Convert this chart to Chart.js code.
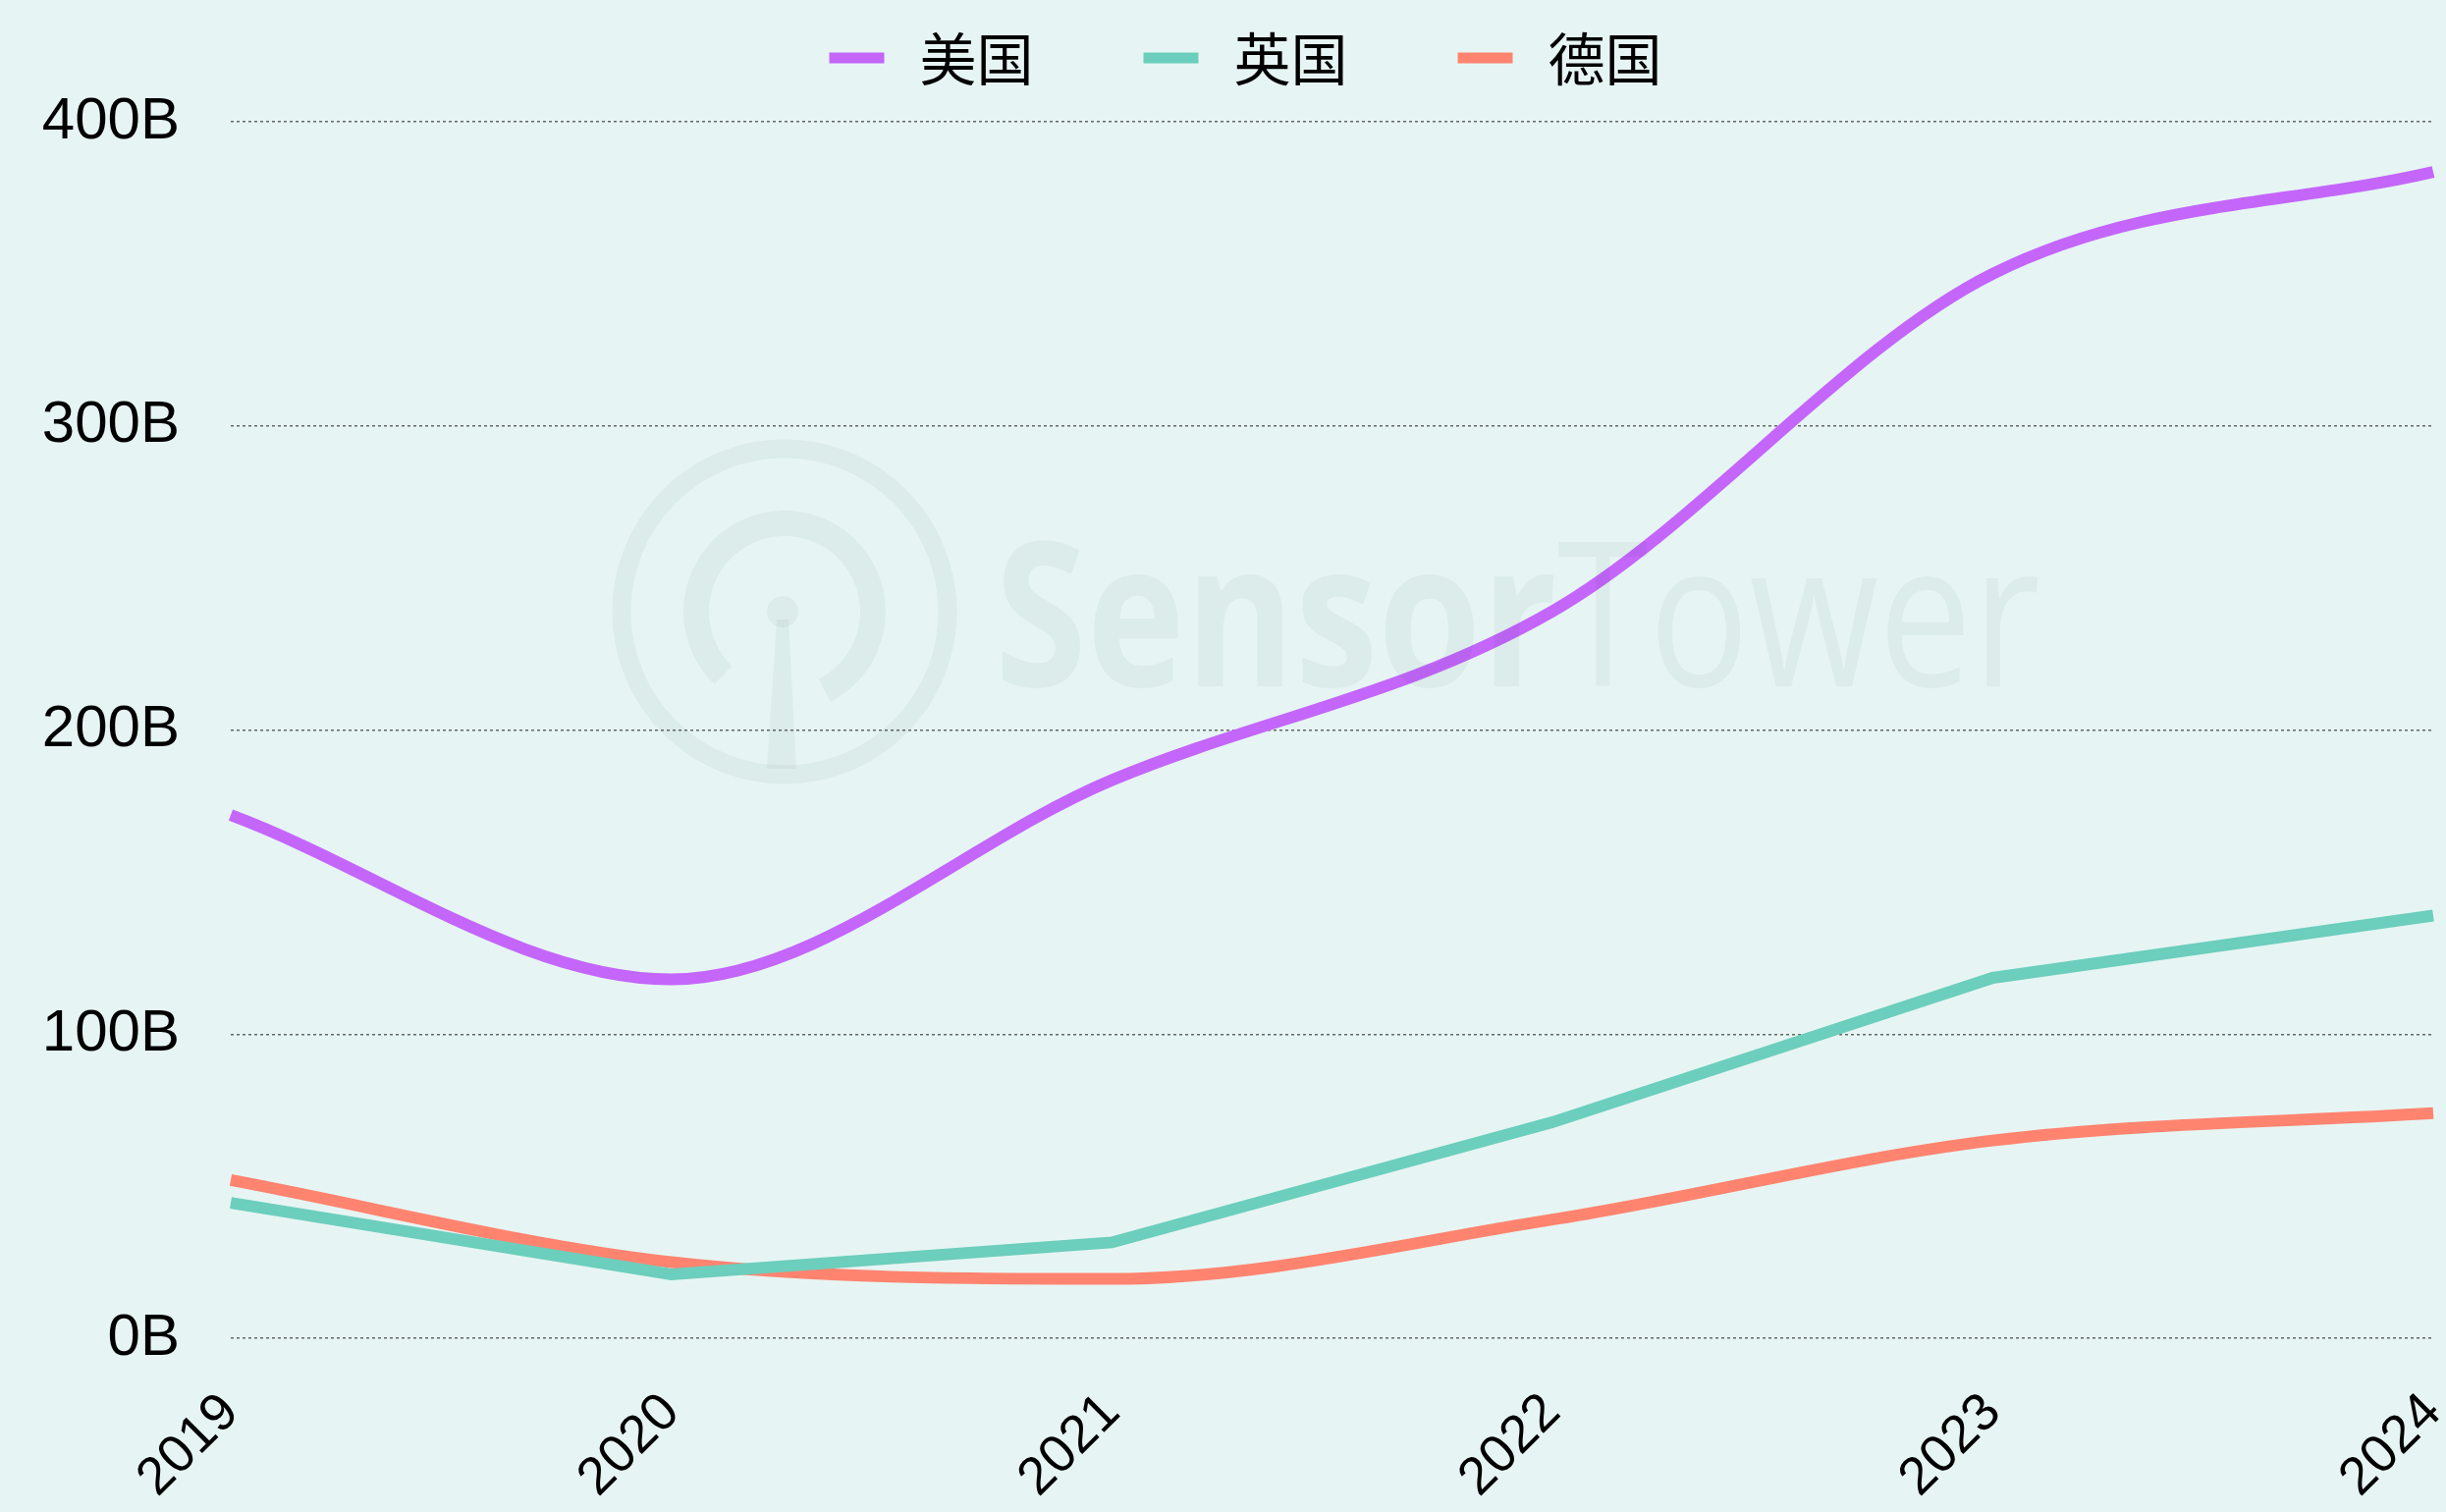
<!DOCTYPE html>
<html>
<head>
<meta charset="utf-8">
<script src="https://cdn.jsdelivr.net/npm/chart.js@4/dist/chart.umd.min.js"></script>
<style>
  html, body { margin: 0; padding: 0; background: #e6f5f3; }
  #wrap { width: 2491px; height: 1540px; position: relative; }
</style>
</head>
<body>
<div id="wrap"><canvas id="chart"></canvas></div>
<script>
// data (billions)
const years = ["2019", "2020", "2021", "2022", "2023", "2024"];
const usValues = [172, 118, 183.5, 239, 350, 383.5];
const ukValues = [44.5, 21, 31.5, 71, 118.5, 139];
const deValues = [52, 25, 19.5, 39, 65, 74];
const seriesNames = ["美国", "英国", "德国"];
const seriesColors = ["#c466fa", "#6ccebc", "#ff8470"];
const yTickValues = [0, 100, 200, 300, 400];

const yFont = { family: "'Liberation Sans', Arial, sans-serif", size: 60 };
const xFont = { family: "'Liberation Sans', Arial, sans-serif", size: 54 };
const cjkFont = "'Noto Sans CJK SC', sans-serif";

// legend drawn by hand so the item spacing matches
const topLegend = {
  id: "topLegend",
  afterDraw(chart) {
    const ctx = chart.ctx;
    ctx.save();
    ctx.font = "58px " + cjkFont;
    ctx.textBaseline = "middle";
    const boxW = 56, boxH = 11, gap = 36, spacing = 112;
    const widths = chart.data.datasets.map(ds => boxW + gap + ctx.measureText(ds.label).width);
    const total = widths.reduce((a, b) => a + b, 0) + spacing * (widths.length - 1);
    let x = chart.width / 2 + 23 - total / 2;
    const y = 59;
    chart.data.datasets.forEach((ds, i) => {
      ctx.fillStyle = ds.borderColor;
      ctx.fillRect(x, y - boxH / 2, boxW, boxH);
      ctx.fillStyle = "#000";
      ctx.fillText(ds.label, x + boxW + gap, y + 1);
      x += widths[i] + spacing;
    });
    ctx.restore();
  }
};

// faint SensorTower mark, painted over the lines
const watermark = {
  id: "watermark",
  afterDatasetsDraw(chart) {
    const ctx = chart.ctx;
    ctx.save();
    const col = "rgba(0,40,40,0.045)";
    ctx.strokeStyle = col;
    ctx.fillStyle = col;
    const cx = 799, cy = 623;
    ctx.lineWidth = 19;
    ctx.beginPath();
    ctx.arc(cx, cy, 166, 0, Math.PI * 2);
    ctx.stroke();
    ctx.lineWidth = 26;
    ctx.beginPath();
    ctx.arc(cx, cy, 90, 134 * Math.PI / 180, 63 * Math.PI / 180);
    ctx.stroke();
    ctx.beginPath();
    ctx.arc(cx - 2, cy, 16, 0, Math.PI * 2);
    ctx.fill();
    ctx.beginPath();
    ctx.moveTo(cx - 8, cy + 8);
    ctx.lineTo(cx + 4, cy + 8);
    ctx.lineTo(cx + 12, cy + 160);
    ctx.lineTo(cx - 18, cy + 160);
    ctx.closePath();
    ctx.fill();

    const left = 1013, right = 2078, base = 699;
    ctx.textBaseline = "alphabetic";
    ctx.font = "bold 205px 'Open Sans', sans-serif";
    const w1 = ctx.measureText("Sensor").width;
    ctx.font = "205px 'Open Sans', sans-serif";
    const w2 = ctx.measureText("Tower").width;
    const k = (right - left) / (w1 + w2);
    ctx.translate(left, base);
    ctx.scale(k, 1);
    ctx.font = "bold 205px 'Open Sans', sans-serif";
    ctx.fillText("Sensor", 0, 0);
    ctx.font = "205px 'Open Sans', sans-serif";
    ctx.fillText("Tower", w1, 0);
    ctx.restore();
  }
};

const bgFill = {
  id: "bgFill",
  beforeDraw(chart) {
    const ctx = chart.ctx;
    ctx.save();
    ctx.fillStyle = "#e6f5f3";
    ctx.fillRect(0, 0, chart.width, chart.height);
    ctx.restore();
  }
};

new Chart(document.getElementById("chart"), {
  type: "line",
  data: {
    labels: years,
    datasets: [
      { label: seriesNames[0], data: usValues, borderColor: seriesColors[0], cubicInterpolationMode: "monotone" },
      { label: seriesNames[1], data: ukValues, borderColor: seriesColors[1], tension: 0 },
      { label: seriesNames[2], data: deValues, borderColor: seriesColors[2], cubicInterpolationMode: "monotone" },
    ],
  },
  options: {
    responsive: true,
    maintainAspectRatio: false,
    devicePixelRatio: 1,
    animation: false,
    layout: { padding: { left: 43, right: 13, top: 124, bottom: 0 } },
    elements: {
      line: { borderWidth: 12, borderCapStyle: "butt", fill: false },
      point: { radius: 0, hoverRadius: 0 },
    },
    plugins: {
      legend: { display: false },
      tooltip: { enabled: false },
    },
    scales: {
      x: {
        offset: false,
        grid: { display: false },
        border: { display: false },
        ticks: {
          font: xFont,
          color: "#000",
          maxRotation: 45,
          minRotation: 45,
          padding: 36,
          autoSkip: false,
        },
        afterFit(axis) {
          // let the layout padding decide the side margins
          axis.paddingLeft = 0;
          axis.paddingRight = 0;
          axis.height = 177;
        },
      },
      y: {
        min: 0,
        max: 400,
        afterBuildTicks(axis) {
          axis.ticks = yTickValues.map(v => ({ value: v }));
        },
        afterFit(axis) {
          axis.width = 192;
        },
        grid: {
          drawTicks: false,
          color: "#666",
          lineWidth: 1.5,
        },
        border: { display: false, dash: [3, 3] },
        ticks: {
          font: yFont,
          color: "#000",
          padding: 52,
          callback: v => v + "B",
        },
      },
    },
  },
  plugins: [bgFill, watermark, topLegend],
});
</script>
</body>
</html>
